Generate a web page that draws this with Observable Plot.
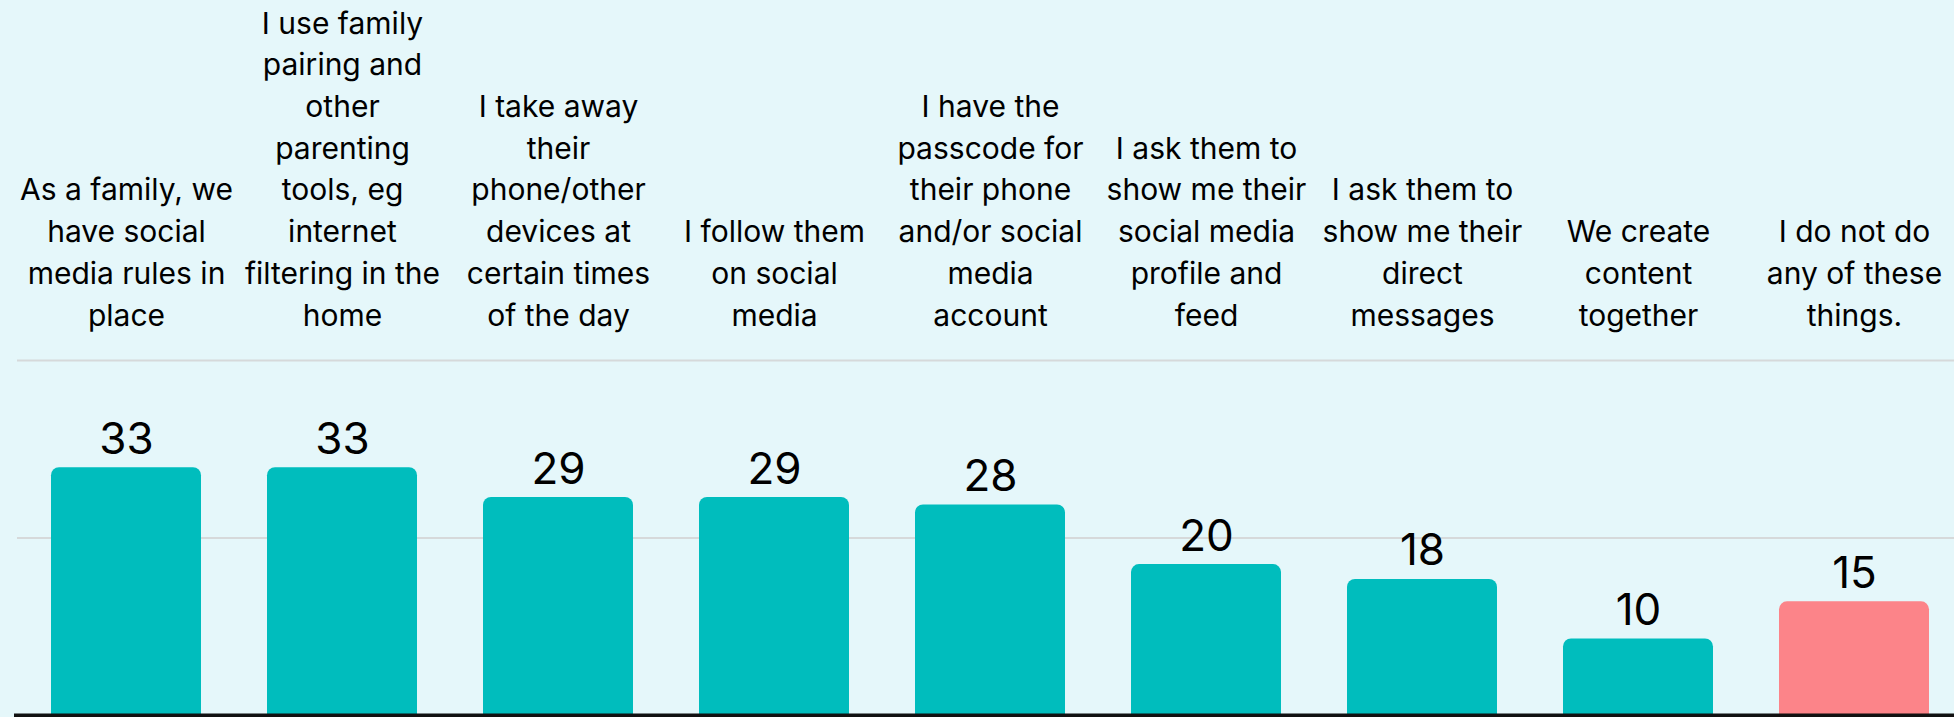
<!DOCTYPE html>
<html>
<head>
<meta charset="utf-8">
<script src="https://cdn.jsdelivr.net/npm/d3@7"></script>
<script src="https://cdn.jsdelivr.net/npm/@observablehq/plot@0.6"></script>
<style>
  html, body { margin: 0; padding: 0; background: #e5f7fa; overflow: hidden; }
  #chart svg { display: block; overflow: hidden; }
</style>
</head>
<body>
<div id="chart"></div>
<script>
const categories = [
  "As a family, we have social media rules in place",
  "I use family pairing and other parenting tools, eg internet filtering in the home",
  "I take away their phone/other devices at certain times of the day",
  "I follow them on social media",
  "I have the passcode for their phone and/or social media account",
  "I ask them to show me their social media profile and feed",
  "I ask them to show me their direct messages",
  "We create content together",
  "I do not do any of these things."
];
const values = [33, 33, 29, 29, 28, 20, 18, 10, 15];
const tickLabels = [
  "As a family, we\nhave social\nmedia rules in\nplace",
  "I use family\npairing and\nother\nparenting\ntools, eg\ninternet\nfiltering in the\nhome",
  "I take away\ntheir\nphone/other\ndevices at\ncertain times\nof the day",
  "I follow them\non social\nmedia",
  "I have the\npasscode for\ntheir phone\nand/or social\nmedia\naccount",
  "I ask them to\nshow me their\nsocial media\nprofile and\nfeed",
  "I ask them to\nshow me their\ndirect\nmessages",
  "We create\ncontent\ntogether",
  "I do not do\nany of these\nthings."
];
const gridValues = [23.55, 47.4];
const noneOption = "I do not do any of these things.";

const data = categories.map((c, i) => ({category: c, value: values[i]}));

const teal = "#00bdbd";
const pink = "#fc8489";

const chart = Plot.plot({
  width: 1954,
  height: 717,
  marginTop: 360,
  marginBottom: 4,
  marginLeft: 17,
  marginRight: 0,
  style: {background: "#e5f7fa", fontFamily: "Inter, sans-serif", color: "#000", overflow: "hidden"},
  x: {domain: categories, paddingInner: 0.306, paddingOuter: 0.1346, align: 0.571},
  y: {domain: [0, 47.4], axis: null},
  marks: [
    Plot.gridY(gridValues, {stroke: "#d6d9da", strokeOpacity: 1, strokeWidth: 2}),
    Plot.barY(data, {
      x: "category",
      y: "value",
      fill: d => d.category === noneOption ? pink : teal,
      rx: 8,
      insetBottom: -10
    }),
    Plot.ruleY([0], {stroke: "#111", strokeWidth: 4, dy: 2, insetLeft: -3}),
    Plot.text(data, {
      x: "category",
      y: "value",
      text: d => String(d.value),
      dy: -14,
      lineAnchor: "bottom",
      fontSize: 44,
      fill: "#000"
    }),
    Plot.axisX({
      anchor: "top",
      tickSize: 0,
      tickPadding: 35,
      tickFormat: d => tickLabels[categories.indexOf(d)],
      fontSize: 30,
      lineHeight: 1.39,
      fill: "#000",
      label: null
    })
  ]
});
document.getElementById("chart").appendChild(chart);
</script>
</body>
</html>
